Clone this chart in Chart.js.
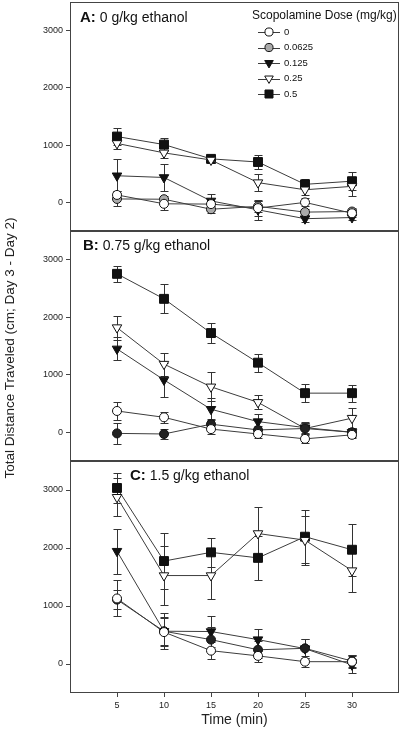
<!DOCTYPE html>
<html>
<head>
<meta charset="utf-8">
<script src="https://cdn.jsdelivr.net/npm/chart.js@4.4.1/dist/chart.umd.min.js"></script>
<style>
  body { margin: 0; background: #fff; }
  #wrap { position: relative; width: 400px; height: 738px; font-family: "Liberation Sans", Arial, sans-serif; color: #111; overflow: hidden; }
  canvas { position: absolute; left: 0; }
  .panel-label { position: absolute; font-size: 14px; line-height: 16px; white-space: nowrap; }
  .panel-label b { font-size: 15px; }
  #ytitle { position: absolute; left: 10px; top: 348px; width: 400px; margin-left: -200px; margin-top: -8px;
            text-align: center; font-size: 13.5px; line-height: 16px; color: #222; transform: rotate(-90deg); white-space: nowrap; }
</style>
</head>
<body>
<div id="wrap">
  <canvas id="chartA" width="400" height="232" style="top:0"></canvas>
  <canvas id="chartB" width="400" height="233" style="top:229px"></canvas>
  <canvas id="chartC" width="400" height="279" style="top:459px"></canvas>
  <div class="panel-label" style="left:80px; top:9px"><b>A:</b> 0 g/kg ethanol</div>
  <div class="panel-label" style="left:83px; top:237px"><b>B:</b> 0.75 g/kg ethanol</div>
  <div class="panel-label" style="left:130px; top:467px"><b>C:</b> 1.5 g/kg ethanol</div>
  <div id="ytitle">Total Distance Traveled (cm; Day 3 - Day 2)</div>
</div>
<script>
const times = [5, 10, 15, 20, 25, 30];
const doses = ["0", "0.0625", "0.125", "0.25", "0.5"];
const xTicks = [5, 10, 15, 20, 25, 30];
const yTicks = [0, 1000, 2000, 3000];

// A: 0 g/kg ethanol (means and error bars)
const meanA_0     = [130, -25, -30, -100, 0, -190];
const meanA_00625 = [60, 55, -120, -70, -170, -160];
const meanA_0125  = [465, 435, 25, -130, -285, -265];
const meanA_025   = [1030, 865, 740, 345, 220, 280];
const meanA_05    = [1150, 1010, 760, 705, 315, 370];
const errA_0      = [60, 100, 60, 130, 70, 70];
const errA_00625  = [130, 60, 60, 90, 60, 60];
const errA_0125   = [300, 240, 130, 170, 60, 50];
const errA_025    = [90, 90, 50, 150, 90, 170];
const errA_05     = [150, 115, 60, 120, 90, 160];

// B: 0.75 g/kg ethanol
const meanB_0     = [370, 260, 55, -30, -115, -45];
const meanB_00625 = [-20, -30, 140, 40, 65, 0];
const meanB_0125  = [1450, 910, 400, 185, 80, 0];
const meanB_025   = [1820, 1185, 790, 520, 65, 245];
const meanB_05    = [2755, 2320, 1725, 1210, 680, 680];
const errB_0      = [160, 100, 80, 70, 70, 50];
const errB_00625  = [180, 80, 90, 70, 100, 80];
const errB_0125   = [200, 290, 190, 140, 100, 70];
const errB_025    = [210, 200, 250, 120, 100, 170];
const errB_05     = [140, 250, 170, 155, 160, 150];

// C: 1.5 g/kg ethanol
const meanC_0     = [1130, 550, 230, 140, 40, 40];
const meanC_00625 = [1110, 565, 420, 245, 270, 50];
const meanC_0125  = [1945, 565, 560, 420, 265, -15];
const meanC_025   = [2875, 1525, 1525, 2250, 2135, 1610];
const meanC_05    = [3035, 1775, 1925, 1830, 2195, 1970];
const errC_0      = [310, 240, 145, 110, 100, 110];
const errC_00625  = [160, 310, 220, 150, 160, 100];
const errC_0125   = [390, 240, 260, 190, 160, 145];
const errC_025    = [330, 510, 410, 450, 420, 370];
const errC_05     = [260, 490, 250, 385, 460, 450];

const FONT = '"Liberation Sans", Arial, sans-serif';
const INK = '#111';
const AXIS = '#444';

// marker look for each dose, in dose order
const markers = [
  { style: 'circle',   radius: 4.5, rotation: 0,   fill: '#fff' },
  { style: 'circle',   radius: 4.5, rotation: 0,   fill: '#aaa' },
  { style: 'triangle', radius: 5.5, rotation: 180, fill: '#111' },
  { style: 'triangle', radius: 5.5, rotation: 180, fill: '#fff' },
  { style: 'rect',     radius: 6.3, rotation: 0,   fill: '#111' }
];

// vertical error bars with caps, drawn under the markers
const errorBars = {
  id: 'errorBars',
  beforeDatasetsDraw(chart) {
    const { ctx, scales: { x, y } } = chart;
    ctx.save();
    ctx.strokeStyle = '#333';
    ctx.lineWidth = 1;
    chart.data.datasets.forEach(ds => {
      ds.data.forEach((pt, i) => {
        const e = ds.errors[i];
        const px = Math.round(x.getPixelForValue(pt.x)) + 0.5;
        const top = Math.round(y.getPixelForValue(pt.y + e)) + 0.5;
        const bot = Math.round(y.getPixelForValue(pt.y - e)) + 0.5;
        ctx.beginPath();
        ctx.moveTo(px, top); ctx.lineTo(px, bot);
        ctx.moveTo(px - 4, top); ctx.lineTo(px + 4, top);
        ctx.moveTo(px - 4, bot); ctx.lineTo(px + 4, bot);
        ctx.stroke();
      });
    });
    ctx.restore();
  }
};

// box round each panel
const frame = {
  id: 'frame',
  afterDraw(chart) {
    const { ctx, chartArea: a } = chart;
    ctx.save();
    ctx.strokeStyle = AXIS;
    ctx.lineWidth = 1;
    ctx.strokeRect(a.left + 0.5, a.top + 0.5, a.right - a.left - 1, a.bottom - a.top - 1);
    ctx.restore();
  }
};

// legend inside panel A
const doseLegend = {
  id: 'doseLegend',
  afterDraw(chart) {
    const ctx = chart.ctx;
    ctx.save();
    ctx.textBaseline = 'middle';
    ctx.textAlign = 'left';
    ctx.fillStyle = INK;
    ctx.font = '12px ' + FONT;
    ctx.fillText('Scopolamine Dose (mg/kg)', 252, 16);
    ctx.font = '9.5px ' + FONT;
    chart.data.datasets.forEach((ds, k) => {
      const y = 32 + k * 15.5;
      ctx.strokeStyle = '#3c3c3c';
      ctx.lineWidth = 1;
      ctx.beginPath();
      ctx.moveTo(258, Math.round(y) + 0.5);
      ctx.lineTo(280, Math.round(y) + 0.5);
      ctx.stroke();
      ctx.fillStyle = ds.pointBackgroundColor;
      ctx.strokeStyle = ds.pointBorderColor;
      Chart.helpers.drawPoint(ctx, {
        pointStyle: ds.pointStyle, radius: ds.pointRadius * 0.9,
        rotation: ds.pointRotation, borderWidth: 1
      }, 269, y);
      ctx.fillStyle = INK;
      ctx.fillText(ds.label, 284, y);
    });
    ctx.restore();
  }
};

function noPad(s) {
  s.paddingTop = 0; s.paddingBottom = 0; s.paddingLeft = 0; s.paddingRight = 0;
}

function makePanel(id, means, errs, opts) {
  const datasets = means.map((vals, k) => ({
    label: doses[k],
    data: vals.map((v, i) => ({ x: times[i], y: v })),
    errors: errs[k],
    borderColor: '#3c3c3c',
    borderWidth: 1,
    tension: 0,
    fill: false,
    pointStyle: markers[k].style,
    pointRadius: markers[k].radius,
    pointRotation: markers[k].rotation,
    pointBackgroundColor: (opts.fills && opts.fills[k]) || markers[k].fill,
    pointBorderColor: INK,
    pointBorderWidth: 1
  }));

  return new Chart(document.getElementById(id), {
    type: 'line',
    data: { datasets },
    options: {
      responsive: false,
      animation: false,
      events: [],
      layout: { autoPadding: false, padding: { top: 2, right: 1, bottom: opts.bottomPad, left: 0 } },
      plugins: { legend: { display: false }, tooltip: { enabled: false } },
      scales: {
        x: {
          type: 'linear', min: 0, max: 35,
          display: !!opts.showX,
          afterBuildTicks: s => { s.ticks = xTicks.map(v => ({ value: v })); },
          afterFit: s => { s.height = opts.showX ? 40 : 0; noPad(s); },
          grid: { drawOnChartArea: false, tickLength: 4, color: AXIS },
          border: { display: false },
          ticks: { color: '#222', font: { family: FONT, size: 9 }, padding: 3, maxRotation: 0, callback: v => String(v) },
          title: { display: !!opts.showX, text: 'Time (min)', color: '#222', font: { family: FONT, size: 14 }, padding: { top: 0, bottom: 4 } }
        },
        y: {
          min: -500, max: 3500,
          afterBuildTicks: s => { s.ticks = yTicks.map(v => ({ value: v })); },
          afterFit: s => { s.width = 70; noPad(s); },
          grid: { drawOnChartArea: false, tickLength: 4, color: AXIS },
          border: { display: false },
          ticks: { color: '#222', font: { family: FONT, size: 9 }, padding: 3, callback: v => String(v) }
        }
      }
    },
    plugins: [errorBars, frame].concat(opts.legend ? [doseLegend] : [])
  });
}

makePanel('chartA',
  [meanA_0, meanA_00625, meanA_0125, meanA_025, meanA_05],
  [errA_0, errA_00625, errA_0125, errA_025, errA_05],
  { bottomPad: 1, legend: true });

makePanel('chartB',
  [meanB_0, meanB_00625, meanB_0125, meanB_025, meanB_05],
  [errB_0, errB_00625, errB_0125, errB_025, errB_05],
  { bottomPad: 1, fills: [null, '#222'] });

makePanel('chartC',
  [meanC_0, meanC_00625, meanC_0125, meanC_025, meanC_05],
  [errC_0, errC_00625, errC_0125, errC_025, errC_05],
  { bottomPad: 5, showX: true, fills: [null, '#222'] });
</script>
</body>
</html>
